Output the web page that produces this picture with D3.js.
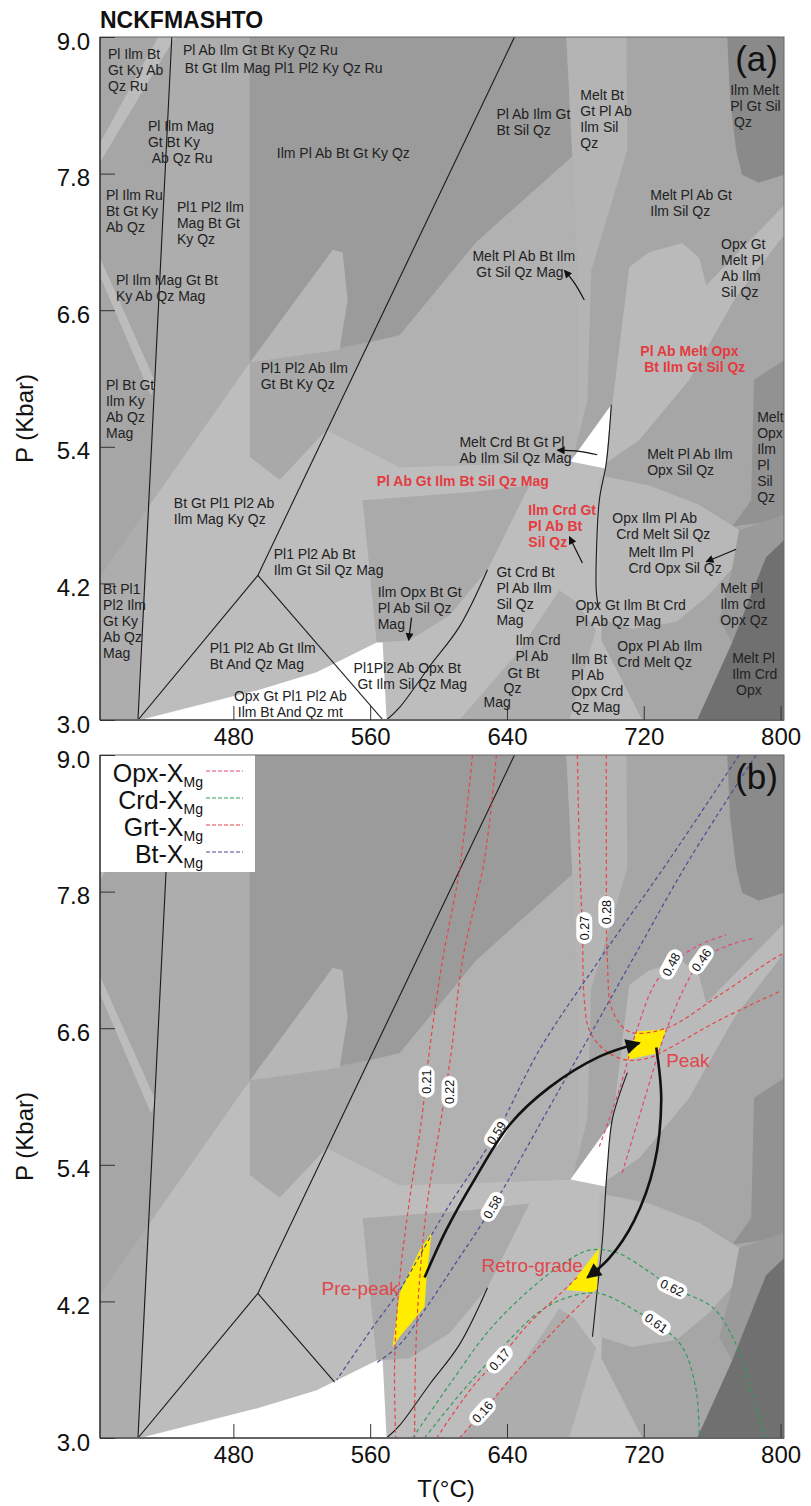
<!DOCTYPE html>
<html>
<head>
<meta charset="utf-8">
<script src="https://cdn.jsdelivr.net/npm/d3@7/dist/d3.min.js"></script>
<style>
  body { margin: 0; background: #fff; }
  text { font-family: "Liberation Sans", Arial, sans-serif; }
</style>
</head>
<body>
<svg id="chart"></svg>
<script>
// ---- axes ----
const tempTicks = [480, 560, 640, 720, 800];
const pressTicks = [3.0, 4.2, 5.4, 6.6, 7.8, 9.0];
const tDomain = [402, 802];
const pDomain = [3, 9];

// ---- assemblage fields, [T (C), P (kbar)] ----
const fields = [
  {id: "leftLow", pts: [[402,4.26],[431.2,4.89],[424.2,3.0],[402,3.0]]},
  {id: "midCol", pts: [[444,9],[489.6,9],[489.6,6.14],[431.2,4.89]]},
  {id: "stripe1", pts: [[402,8.07],[436,9],[446,9],[402,7.90]]},
  {id: "stripe2", pts: [[402,7.06],[402,6.90],[431.8,5.85],[434.7,5.96]]},
  {id: "darkTop", pts: [[489.6,9],[674.7,9],[678.2,7.95],[622.2,7.20],[577.2,6.38],[560.3,6.32],[489.6,6.14]]},
  {id: "lightPeak", pts: [[489.6,6.14],[538.1,7.13],[543.9,7.11],[546.8,6.69],[542.1,6.25]]},
  {id: "pl1pl2", pts: [[489.6,6.14],[542.1,6.25],[560.3,6.32],[534.6,5.55],[507.1,5.11],[489.6,5.31]]},
  {id: "melt", pts: [[560.3,6.32],[577.2,6.38],[622.2,7.20],[678.2,7.95],[681.2,6.88],[687,5.81],[681.2,5.46],[678.2,5.27],[577.2,5.22],[534.6,5.55]]},
  {id: "light", pts: [[431.2,4.89],[489.6,6.14],[489.6,5.31],[507.1,5.11],[534.6,5.55],[577.2,5.22],[678.2,5.27],[697.5,5.21],[694,3.0],[424.2,3.0]]},
  {id: "ilmOpx", pts: [[555.6,4.93],[618.1,5.00],[653.1,5.06],[628.6,4.32],[606.4,3.92],[583,3.70],[563.8,3.68]]},
  {id: "lowerMid", pts: [[612.2,3.0],[647.3,3.61],[670.6,4.14],[679.4,4.05],[692.2,3.79],[676.5,3.0]]},
  {id: "ilmBtTri", pts: [[692.2,3.79],[676.5,3.0],[719.1,3.0]]},
  {id: "whiteLow", pts: [[425.4,3.0],[493.7,3.26],[528.7,3.42],[563.8,3.68],[567.3,3.68],[569.6,3.0]]},
  {id: "strip", pts: [[674.7,9],[709.8,9],[710.4,8.01],[689.3,6.95],[687,5.81],[681.2,5.46],[681.2,6.87],[678.2,7.95]]},
  {id: "rightLight", pts: [[701.6,5.77],[711.5,6.98],[723.2,7.11],[742.5,7.19],[752.4,7.06],[756.5,6.82],[802,7.52],[802,7.26],[772.8,6.69],[746.6,5.99],[717.4,5.46],[698.1,5.26]]},
  {id: "whiteTri", pts: [[701,5.77],[677.1,5.27],[697.5,5.21]]},
  {id: "topRight", pts: [[768.8,9],[802,9],[802,7.79],[787.4,7.72],[777.5,7.79],[774,8.01],[770.5,8.45]]},
  {id: "opxStrip", pts: [[784.5,5.99],[802,6.16],[802,4.76],[771.7,4.70],[782.8,4.93]]},
  {id: "bowl", pts: [[694,5.15],[723.2,5.06],[752.4,4.89],[775.8,4.67],[771.7,4.33],[758.2,4.10],[739,3.86],[713.3,3.80],[694,3.89]]},
  {id: "crdOpxQz", pts: [[775.8,4.67],[802,4.80],[802,4.05],[771.7,3.68],[764.1,3.88],[771.7,4.33]]},
  {id: "darkest", pts: [[751.2,3.0],[771.7,3.68],[791.5,4.43],[802,4.58],[802,3.0]]}
];

const fieldFill = {
  leftLow: "#adadad", midCol: "#adadad", stripe1: "#bcbcbc", stripe2: "#bcbcbc",
  darkTop: "#9b9b9b", lightPeak: "#b6b6b6", pl1pl2: "#a9a9a9", melt: "#b1b1b1",
  light: "#bdbdbd", ilmOpx: "#aaaaaa", lowerMid: "#adadad", ilmBtTri: "#bbbbbb",
  whiteLow: "#ffffff", strip: "#b4b4b4", rightLight: "#bababa", whiteTri: "#ffffff",
  topRight: "#8a8a8a", opxStrip: "#929292", bowl: "#b8b8b8", crdOpxQz: "#9a9a9a",
  darkest: "#707070"
};

// ---- reaction lines ----
const linesA = [
  [[444,9],[424.2,3.0]],
  [[644.4,9],[494.3,4.27]],
  [[494.3,4.27],[424.2,3.0]],
  [[494.3,4.27],[567.5,3.0]],
  [[569.6,3.0],[577.2,3.11],[594.7,3.47],[612.2,3.82],[628.6,4.32]],
  [[701,5.77],[698.1,5.26],[694,4.93],[692.2,4.41],[692.2,4.14],[693.4,3.99]]
];
const linesB = [
  [[444,9],[424.2,3.0]],
  [[644.4,9],[494.3,4.27]],
  [[494.3,4.27],[424.2,3.0]],
  [[494.3,4.27],[539.2,3.49]],
  [[569.6,3.0],[577.2,3.11],[594.7,3.47],[612.2,3.82],[628.6,4.32]],
  [[710.4,6.21],[701.6,5.80],[698.7,5.38],[695.8,4.74],[692.8,4.30],[690,3.89]]
];

// ---- panel (a) assemblage labels: text, [T, P] of first baseline ----
const assemblages = [
  {text: "Pl Ilm Bt|Gt Ky Ab|Qz Ru", at: [406.7,8.81]},
  {text: "Pl Ab Ilm Gt Bt Ky Qz Ru", at: [450.5,8.84]},
  {text: "Bt Gt Ilm Mag Pl1 Pl2 Ky Qz Ru", at: [451.6,8.68]},
  {text: "Pl Ilm Mag|Gt Bt Ky|\u00a0Ab Qz Ru", at: [430,8.17]},
  {text: "Ilm Pl Ab Bt Gt Ky Qz", at: [505.4,7.94]},
  {text: "Pl Ilm Ru|Bt Gt Ky|Ab Qz", at: [405.5,7.57]},
  {text: "Pl1 Pl2 Ilm|Mag Bt Gt|Ky Qz", at: [447,7.46]},
  {text: "Pl Ilm Mag Gt Bt|Ky Ab Qz Mag", at: [411.3,6.82]},
  {text: "Pl Ab Ilm Gt|Bt Sil Qz", at: [633.8,8.28]},
  {text: "Melt Bt|Gt Pl Ab|Ilm Sil|Qz", at: [682.9,8.45]},
  {text: "Ilm Melt|Pl Gt Sil|\u00a0Qz", at: [770.5,8.49]},
  {text: "Melt Pl Ab Gt|Ilm Sil Qz", at: [723.8,7.57]},
  {text: "Opx Gt|Melt Pl|Ab Ilm|Sil Qz", at: [765.2,7.14]},
  {text: "Melt Pl Ab Bt Ilm|\u00a0Gt Sil Qz Mag", at: [619.8,7.03]},
  {text: "Pl1 Pl2 Ab Ilm|Gt Bt Ky Qz", at: [496,6.05]},
  {text: "Pl Bt Gt|Ilm Ky|Ab Qz|Mag", at: [405.5,5.90]},
  {text: "Bt Gt Pl1 Pl2 Ab|Ilm Mag Ky Qz", at: [445.2,4.86]},
  {text: "Pl Ab Gt Ilm Bt Sil Qz Mag", at: [563.8,5.06], red: true},
  {text: "Pl Ab Melt Opx|\u00a0Bt Ilm Gt Sil Qz", at: [718,6.20], red: true},
  {text: "Melt Crd Bt Gt Pl|Ab Ilm Sil Qz Mag", at: [612.2,5.40]},
  {text: "Melt Pl Ab Ilm|Opx Sil Qz", at: [722,5.29]},
  {text: "Melt|Opx|Ilm|Pl|Sil|Qz", at: [786.3,5.62]},
  {text: "Ilm Crd Gt|Pl Ab Bt|Sil Qz", at: [652.5,4.80], red: true},
  {text: "Pl1 Pl2 Ab Bt|Ilm Gt Sil Qz Mag", at: [503.6,4.41]},
  {text: "Bt Pl1|Pl2 Ilm|Gt Ky|Ab Qz|Mag", at: [403.8,4.11]},
  {text: "Pl1 Pl2 Ab Gt Ilm|Bt And Qz Mag", at: [466.2,3.59]},
  {text: "Opx Gt Pl1 Pl2 Ab|\u00a0Ilm Bt And Qz mt", at: [480.3,3.17]},
  {text: "Ilm Opx Bt Gt|Pl Ab Sil Qz|Mag", at: [564.4,4.08]},
  {text: "Pl1Pl2 Ab Opx Bt|\u00a0Gt Ilm Sil Qz Mag", at: [550.3,3.41]},
  {text: "Opx Ilm Pl Ab|\u00a0Crd Melt Sil Qz", at: [701.6,4.73]},
  {text: "Melt Ilm Pl|Crd Opx Sil Qz", at: [711,4.43]},
  {text: "Gt Crd Bt|Pl Ab Ilm|Sil Qz|Mag", at: [633.8,4.26]},
  {text: "Melt Pl|Ilm Crd|Opx Qz", at: [764.7,4.12]},
  {text: "Opx Gt Ilm Bt Crd|Pl Ab Qz Mag", at: [680,3.97]},
  {text: "Ilm Crd|Pl Ab", at: [645,3.66]},
  {text: "Gt Bt", at: [640.3,3.37]},
  {text: "Qz", at: [638,3.24]},
  {text: "Mag", at: [626.3,3.11]},
  {text: "Ilm Bt|Pl Ab|Opx Crd|Qz Mag", at: [677.6,3.49]},
  {text: "Opx Pl Ab Ilm|Crd Melt Qz", at: [704.5,3.61]},
  {text: "Melt Pl|Ilm Crd|\u00a0Opx", at: [771.7,3.50]}
];

// small arrows in panel (a), last point is the tip
const arrowsA = [
  [[685.2,6.69],[679.4,6.84],[673.6,6.95]],
  [[692.8,5.33],[682.3,5.36],[669.5,5.37]],
  [[684.1,4.38],[676.5,4.61]],
  [[774,4.50],[756.5,4.39]],
  [[584.2,3.90],[582.5,3.70]]
];

// ---- panel (b): isopleths ----
const minerals = ["Opx", "Crd", "Grt", "Bt"];
const isopleths = [
  {min: "Grt", v: "0.21", at: [593,6.13], pts: [[619.8,9],[612.2,7.99],[602.3,7.20],[594.7,6.41],[590,5.79],[583,5.09],[577.2,4.39],[574.3,3.69],[574.9,3.0]]},
  {min: "Grt", v: "0.22", at: [606.4,6.04], pts: [[633.8,9],[626.8,8.08],[614,7.20],[607.6,6.41],[602.3,5.88],[593.6,5.09],[588.9,4.39],[586.5,3.69],[586,3.0]]},
  {min: "Grt", v: "0.27", at: [685.2,7.48], pts: [[681.2,9],[682.3,8.17],[684.1,7.46],[685.2,6.85],[688.2,6.58],[697,6.41],[709.8,6.32],[723.2,6.34],[733.1,6.41],[764.1,6.67],[799.1,6.92]]},
  {min: "Grt", v: "0.28", at: [698.1,7.62], pts: [[698.1,9],[698.1,8.17],[698.7,7.20],[701.6,6.76],[711.5,6.57],[733.1,6.60],[764.1,6.89],[795,7.20],[802,7.26]]},
  {min: "Opx", v: "0.48", at: [736,7.16], pts: [[694,5.56],[705.7,6.06],[715.6,6.57],[726.1,6.98],[736,7.16],[752.4,7.33],[768.2,7.42]]},
  {min: "Opx", v: "0.46", at: [753.6,7.20], pts: [[707.4,5.33],[720.3,5.97],[733.1,6.58],[746.6,7.04],[753.6,7.20],[770,7.33],[784.5,7.39]]},
  {min: "Bt", v: "0.59", at: [633.8,5.68], pts: [[775.8,9],[734.9,8.08],[694,7.20],[659,6.41],[633.8,5.68],[606.4,5.05],[596.5,4.80],[577.2,4.30],[561.4,3.97],[540.4,3.51]]},
  {min: "Bt", v: "0.58", at: [631.5,5.03], pts: [[785.7,9],[746.6,8.08],[713.3,7.20],[670.6,6.06],[631.5,5.03],[609.3,4.52],[593,4.15],[577.2,3.82],[563.8,3.66]]},
  {min: "Crd", v: "0.62", at: [736.6,4.32], pts: [[584.8,3.0],[606.4,3.47],[629.8,3.95],[653.1,4.30],[673.6,4.54],[688.2,4.65],[703.9,4.63],[723.2,4.46],[736.6,4.32],[760,4.15],[772.8,3.86],[784.5,3.33],[791.5,3.0]]},
  {min: "Crd", v: "0.61", at: [727.3,4.01], pts: [[591.8,3.0],[612.2,3.38],[635.6,3.77],[659,4.11],[676.5,4.24],[694,4.27],[717.4,4.10],[727.3,4.01],[742.5,3.80],[750.6,3.42],[752.4,3.0]]},
  {min: "Grt", v: "0.17", at: [635.6,3.69], pts: [[598.8,3.0],[621,3.47],[635.6,3.70],[653.1,4.01],[670.6,4.26],[682.3,4.43]]},
  {min: "Grt", v: "0.16", at: [625.7,3.23], pts: [[612.2,3.0],[625.7,3.23],[647.3,3.61],[670.6,3.99],[689.9,4.28]]}
];
const labelAngle = {"0.21": -90, "0.22": -90, "0.27": -90, "0.28": -90, "0.48": -62, "0.46": -55,
  "0.59": -57, "0.58": -60, "0.62": 25, "0.61": 35, "0.17": -48, "0.16": -48};

// P-T stages
const stages = [
  {name: "Pre-peak", at: [531.6,4.26], pts: [[595.9,4.80],[593,4.41],[591.8,4.15],[577.2,3.89],[573.1,3.80],[577.2,4.27],[588.9,4.65]]},
  {name: "Peak", at: [733.1,6.26], pts: [[715.6,6.57],[733.1,6.59],[727.9,6.38],[709.8,6.32]]},
  {name: "Retro-grade", at: [625.1,4.46], pts: [[694,4.67],[674.7,4.30],[690,4.28],[692.8,4.31],[692.8,4.52]]}
];
const pathArrows = [
  [[591.8,4.41],[604.6,4.83],[621,5.27],[641.4,5.75],[664.8,6.08],[694,6.35],[717.4,6.47]],
  [[727.3,6.43],[730.2,5.97],[726.1,5.40],[714.4,4.91],[699.8,4.58],[687,4.41]]
];

// ---- drawing ----
const isoColor = {Opx: "#e0457c", Crd: "#2f9c57", Grt: "#e8444a", Bt: "#4b4b94"};
const font = '"Liberation Sans", Arial, sans-serif';

const svg = d3.select("#chart").attr("width", 811).attr("height", 1506);
const defs = svg.append("defs");
function marker(id, w, h) {
  defs.append("marker").attr("id", id)
    .attr("viewBox", "0 0 10 10").attr("refX", 9).attr("refY", 5)
    .attr("markerUnits", "userSpaceOnUse")
    .attr("markerWidth", w).attr("markerHeight", h)
    .attr("orient", "auto")
    .append("path").attr("d", "M0,0 L10,5 L0,10 Z").attr("fill", "#111");
}
marker("headSmall", 10, 8);
marker("headBig", 20, 15);

const x = d3.scaleLinear(tDomain, [100, 784]);

const panels = [
  {key: "a", top: 37, bottom: 720, lines: linesA},
  {key: "b", top: 755, bottom: 1438, lines: linesB}
];

svg.append("text")
  .attr("x", 100).attr("y", 28)
  .attr("font-size", 23).attr("font-weight", "bold").attr("fill", "#111")
  .text("NCKFMASHTO");

panels.forEach(p => {
  p.y = d3.scaleLinear(pDomain, [p.bottom, p.top]);
  const g = svg.append("g");
  p.g = g;
  defs.append("clipPath").attr("id", "clip-" + p.key)
    .append("rect").attr("x", 100).attr("y", p.top)
    .attr("width", 684).attr("height", p.bottom - p.top);
  const plot = g.append("g").attr("clip-path", `url(#clip-${p.key})`);
  p.plot = plot;

  plot.append("rect")
    .attr("x", x(tDomain[0])).attr("y", p.y(pDomain[1]))
    .attr("width", x(tDomain[1]) - x(tDomain[0]))
    .attr("height", p.y(pDomain[0]) - p.y(pDomain[1]))
    .attr("fill", "#a6a6a6");

  const line = d3.line().x(d => x(d[0])).y(d => p.y(d[1]));
  const curve = d3.line().x(d => x(d[0])).y(d => p.y(d[1])).curve(d3.curveCatmullRom);

  plot.selectAll("path.field")
    .data(fields)
    .join("path")
    .attr("class", "field")
    .attr("d", d => line(d.pts) + "Z")
    .attr("fill", d => fieldFill[d.id]);

  plot.selectAll("path.rxn")
    .data(p.lines)
    .join("path")
    .attr("class", "rxn")
    .attr("d", d => curve(d))
    .attr("fill", "none")
    .attr("stroke", "#1a1a1a")
    .attr("stroke-width", 1.1);

  p.line = line;
  p.curve = curve;
});

// panel (a) annotations
{
  const p = panels[0];
  const lab = p.g.append("g").attr("font-size", 14).attr("fill", "#222");
  assemblages.forEach(a => {
    const tx = x(a.at[0]);
    const t = lab.append("text").attr("x", tx).attr("y", p.y(a.at[1]));
    if (a.red) t.attr("fill", "#e43b41").attr("font-weight", "bold");
    a.text.split("|").forEach((s, i) => {
      t.append("tspan").attr("x", tx).attr("dy", i ? 16 : 0).text(s);
    });
  });
  p.g.selectAll("path.arrA")
    .data(arrowsA)
    .join("path")
    .attr("class", "arrA")
    .attr("d", d => p.curve(d))
    .attr("fill", "none")
    .attr("stroke", "#111")
    .attr("stroke-width", 1.2)
    .attr("marker-end", "url(#headSmall)");
}

// panel (b) annotations
{
  const p = panels[1];
  const plot = p.plot;

  plot.selectAll("path.stage")
    .data(stages)
    .join("path")
    .attr("class", "stage")
    .attr("d", d => p.line(d.pts) + "Z")
    .attr("fill", "#ffed00");

  plot.selectAll("path.iso")
    .data(isopleths)
    .join("path")
    .attr("class", "iso")
    .attr("d", d => p.curve(d.pts))
    .attr("fill", "none")
    .attr("stroke", d => isoColor[d.min])
    .attr("stroke-width", 1.2)
    .attr("stroke-dasharray", "4,3");

  const pills = plot.selectAll("g.pill")
    .data(isopleths)
    .join("g")
    .attr("class", "pill")
    .attr("transform", d => `translate(${x(d.at[0])},${p.y(d.at[1])}) rotate(${labelAngle[d.v]})`);
  pills.append("rect")
    .attr("x", -16).attr("y", -8).attr("width", 32).attr("height", 16).attr("rx", 8)
    .attr("fill", "#fff");
  pills.append("text")
    .attr("text-anchor", "middle").attr("dy", "0.36em")
    .attr("font-size", 12.5).attr("fill", "#111")
    .text(d => d.v);

  plot.selectAll("path.ptpath")
    .data(pathArrows)
    .join("path")
    .attr("class", "ptpath")
    .attr("d", d => p.curve(d))
    .attr("fill", "none")
    .attr("stroke", "#111")
    .attr("stroke-width", 2.6)
    .attr("marker-end", "url(#headBig)");

  p.g.selectAll("text.stage")
    .data(stages)
    .join("text")
    .attr("class", "stage")
    .attr("x", d => x(d.at[0])).attr("y", d => p.y(d.at[1]))
    .attr("font-size", 19).attr("fill", "#e0474c")
    .text(d => d.name);

  // legend
  const lg = p.g.append("g");
  lg.append("rect").attr("x", 100).attr("y", 755).attr("width", 155).attr("height", 117).attr("fill", "#fff");
  minerals.forEach((m, i) => {
    const yy = 782 + i * 27;
    const t = lg.append("text").attr("x", 203).attr("y", yy)
      .attr("text-anchor", "end").attr("font-size", 25).attr("fill", "#111");
    t.append("tspan").text(m + "-X");
    t.append("tspan").attr("font-size", 14).attr("dy", 5).text("Mg");
    lg.append("line")
      .attr("x1", 206).attr("x2", 243).attr("y1", yy - 11).attr("y2", yy - 11)
      .attr("stroke", isoColor[m]).attr("stroke-width", 1.2).attr("stroke-dasharray", "4,2");
  });
}

// frames, axes, titles
panels.forEach(p => {
  const g = p.g;
  g.append("rect")
    .attr("x", 100).attr("y", p.top).attr("width", 684).attr("height", p.bottom - p.top)
    .attr("fill", "none").attr("stroke", "#666").attr("stroke-width", 1);
  g.append("line").attr("x1", 100).attr("x2", 784).attr("y1", p.bottom).attr("y2", p.bottom)
    .attr("stroke", "#666").attr("stroke-width", 2);
  g.append("line").attr("x1", 100).attr("x2", 100).attr("y1", p.top).attr("y2", p.bottom)
    .attr("stroke", "#222").attr("stroke-width", 1.2);

  const xa = d3.axisBottom(x).tickValues(tempTicks).tickSize(-14).tickSizeOuter(0).tickPadding(8);
  const gx = g.append("g").attr("transform", `translate(0,${p.bottom})`).call(xa)
    .attr("font-size", 24).attr("font-family", font);
  gx.select(".domain").remove();
  gx.selectAll(".tick line").attr("stroke", "#333");
  gx.selectAll(".tick text").attr("fill", "#111");

  const ya = d3.axisLeft(p.y).tickValues(pressTicks).tickFormat(d3.format(".1f"))
    .tickSize(-15).tickSizeOuter(0).tickPadding(10);
  const gy = g.append("g").attr("transform", "translate(100,0)").call(ya)
    .attr("font-size", 24).attr("font-family", font);
  gy.select(".domain").remove();
  gy.selectAll(".tick line").attr("stroke", "#333");
  gy.selectAll(".tick text").attr("fill", "#111").attr("dy", "0.5em");

  const mid = (p.top + p.bottom) / 2 + 40;
  g.append("text")
    .attr("transform", `translate(33,${mid}) rotate(-90)`)
    .attr("text-anchor", "middle").attr("font-size", 24).attr("fill", "#111")
    .text("P (Kbar)");

  g.append("text")
    .attr("x", 778).attr("y", p.top + 34)
    .attr("text-anchor", "end").attr("font-size", 35).attr("fill", "#111")
    .text(`(${p.key})`);
});

svg.append("text")
  .attr("x", 446).attr("y", 1497)
  .attr("text-anchor", "middle").attr("font-size", 24).attr("fill", "#111")
  .text("T(\u00b0C)");
</script>
</body>
</html>
